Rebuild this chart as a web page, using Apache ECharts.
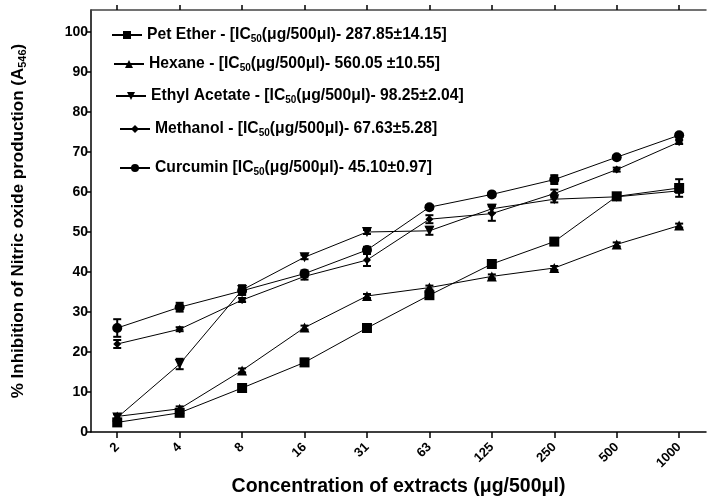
<!DOCTYPE html>
<html>
<head>
<meta charset="utf-8">
<script src="https://cdn.jsdelivr.net/npm/echarts@6/dist/echarts.min.js"></script>
<style>
  html, body { margin: 0; padding: 0; background: #fff; }
  #chart { width: 707px; height: 499px; }
</style>
</head>
<body>
<div id="chart"></div>
<script>
const categories = ["2", "4", "8", "16", "31", "63", "125", "250", "500", "1000"];
const yTicks = [0, 10, 20, 30, 40, 50, 60, 70, 80, 90, 100];

const petEther = [2.4, 4.8, 11, 17.4, 26, 34.2, 42, 47.6, 58.9, 61];
const hexane = [3.9, 5.8, 15.4, 26.1, 34, 36.1, 38.9, 41, 46.9, 51.6];
const ethylAcetate = [3.6, 17, 35.5, 43.7, 50, 50.3, 55.8, 58.2, 58.8, 60.3];
const methanol = [22, 25.7, 33, 38.9, 43, 53.2, 54.6, 59.6, 65.6, 72.5];
const curcumin = [26, 31.2, 35.3, 39.6, 45.5, 56.2, 59.4, 63.1, 68.7, 74.2];

// error (± SEM)
const petEtherErr = [0.8, 0.8, 0.6, 0.9, 0.6, 0.6, 1.0, 0.5, 0.5, 2.2];
const hexaneErr = [0.6, 0.6, 0.5, 0.5, 0.5, 0.5, 0.5, 0.5, 0.5, 0.5];
const ethylAcetateErr = [0.8, 1.3, 1.2, 0.5, 0.5, 1.0, 1.0, 0.8, 0.5, 0.5];
const methanolErr = [1.0, 0.5, 0.5, 0.8, 1.5, 1.0, 1.8, 1.0, 0.5, 0.5];
const curcuminErr = [2.2, 1.1, 1.0, 0.8, 0.8, 0.5, 0.5, 1.1, 0.5, 0.5];

const legendLabels = {
  "Pet Ether": ["Pet Ether - [IC", "(μg/500μl)- 287.85±14.15]"],
  "Hexane": ["Hexane - [IC", "(μg/500μl)- 560.05 ±10.55]"],
  "Ethyl Acetate": ["Ethyl Acetate - [IC", "(μg/500μl)- 98.25±2.04]"],
  "Methanol": ["Methanol - [IC", "(μg/500μl)- 67.63±5.28]"],
  "Curcumin": ["Curcumin [IC", "(μg/500μl)- 45.10±0.97]"],
};

const FONT = "Liberation Sans, Arial, sans-serif";
const xIdx = categories.map((c, i) => i);

const chart = echarts.init(document.getElementById("chart"));

function lineSeries(name, values, symbol, size, rotate) {
  return {
    name: name,
    type: "line",
    data: values.map((v, i) => [i, v]),
    symbol: symbol,
    symbolSize: size,
    symbolRotate: rotate || 0,
    showSymbol: true,
    z: 3,
    lineStyle: { color: "#000", width: 1 },
    itemStyle: { color: "#000" },
    emphasis: { disabled: true },
  };
}

function errorSeries(values, errs) {
  return {
    type: "custom",
    data: values.map((v, i) => [i, v, errs[i]]),
    z: 2,
    silent: true,
    renderItem(params, api) {
      const x = api.value(0);
      const y = api.value(1);
      const e = api.value(2);
      if (!e) return null;
      const top = api.coord([x, y + e]);
      const bot = api.coord([x, y - e]);
      const cap = 4;
      const style = { stroke: "#000", lineWidth: 2 };
      return {
        type: "group",
        children: [
          { type: "line", shape: { x1: top[0], y1: top[1], x2: bot[0], y2: bot[1] }, style },
          { type: "line", shape: { x1: top[0] - cap, y1: top[1], x2: top[0] + cap, y2: top[1] }, style },
          { type: "line", shape: { x1: bot[0] - cap, y1: bot[1], x2: bot[0] + cap, y2: bot[1] }, style },
        ],
      };
    },
  };
}

function legendAt(name, left, top) {
  return {
    data: [name],
    left: left,
    top: top,
    padding: 0,
    orient: "horizontal",
    itemWidth: 30,
    itemHeight: 10,
    selectedMode: false,
    formatter(n) {
      const p = legendLabels[n];
      return "{t|" + p[0] + "}{s|50}{t|" + p[1] + "}";
    },
    textStyle: {
      fontFamily: FONT,
      rich: {
        t: { fontFamily: FONT, fontSize: 15.7, fontWeight: "bold", color: "#000" },
        s: { fontFamily: FONT, fontSize: 10, fontWeight: "bold", color: "#000", padding: [8, 0, 0, 0] },
      },
    },
  };
}

const option = {
  animation: false,
  backgroundColor: "#fff",
  textStyle: { fontFamily: FONT },
  grid: { left: 91, right: 1, top: 10, bottom: 67, outerBoundsMode: "none" },
  legend: [
    legendAt("Pet Ether", 111, 27),
    legendAt("Hexane", 113, 56),
    legendAt("Ethyl Acetate", 115, 88),
    legendAt("Methanol", 119, 121),
    legendAt("Curcumin", 119, 160),
  ],
  xAxis: [
    {
      type: "value",
      min: -0.42,
      max: 9.43,
      splitLine: { show: false },
      axisLine: { show: true, onZero: false, lineStyle: { color: "#000", width: 1.5 } },
      axisTick: { show: true, customValues: xIdx, length: 6, lineStyle: { color: "#000", width: 1.5 } },
      axisLabel: {
        customValues: xIdx,
        formatter: (v) => categories[Math.round(v)],
        rotate: 45,
        margin: 13,
        fontFamily: FONT,
        fontSize: 13,
        fontWeight: "bold",
        color: "#000",
      },
      name: "Concentration of extracts (μg/500μl)",
      nameLocation: "middle",
      nameGap: 43,
      nameTextStyle: { fontFamily: FONT, fontSize: 19.5, fontWeight: "bold", color: "#000" },
    },
    {
      type: "value",
      position: "top",
      min: -0.42,
      max: 9.43,
      splitLine: { show: false },
      axisLine: { show: true, onZero: false, lineStyle: { color: "#444", width: 1.5 } },
      axisTick: { show: true, customValues: xIdx, length: 5, lineStyle: { color: "#000", width: 1.5 } },
      axisLabel: { show: false },
    },
  ],
  yAxis: {
    type: "value",
    min: 0,
    max: 105.5,
    splitLine: { show: false },
    axisLine: { show: true, onZero: false, lineStyle: { color: "#000", width: 1.5 } },
    axisTick: { show: true, customValues: yTicks, length: 5, lineStyle: { color: "#000", width: 1.5 } },
    axisLabel: {
      customValues: yTicks,
      margin: 3,
      fontFamily: FONT,
      fontSize: 14,
      fontWeight: "bold",
      color: "#000",
    },
    name: "{t|% Inhibition of Nitric oxide production (A}{s|546}{t|)}",
    nameLocation: "middle",
    nameGap: 63,
    nameTextStyle: {
      rich: {
        t: { fontFamily: FONT, fontSize: 17, fontWeight: "bold", color: "#000" },
        s: { fontFamily: FONT, fontSize: 11, fontWeight: "bold", color: "#000", padding: [8, 0, 0, 0] },
      },
    },
  },
  series: [
    errorSeries(petEther, petEtherErr),
    errorSeries(hexane, hexaneErr),
    errorSeries(ethylAcetate, ethylAcetateErr),
    errorSeries(methanol, methanolErr),
    errorSeries(curcumin, curcuminErr),
    lineSeries("Pet Ether", petEther, "rect", 10),
    lineSeries("Hexane", hexane, "triangle", 10),
    lineSeries("Ethyl Acetate", ethylAcetate, "triangle", 10, 180),
    lineSeries("Methanol", methanol, "diamond", 8),
    lineSeries("Curcumin", curcumin, "circle", 10),
  ],
};

chart.setOption(option);
</script>
</body>
</html>
